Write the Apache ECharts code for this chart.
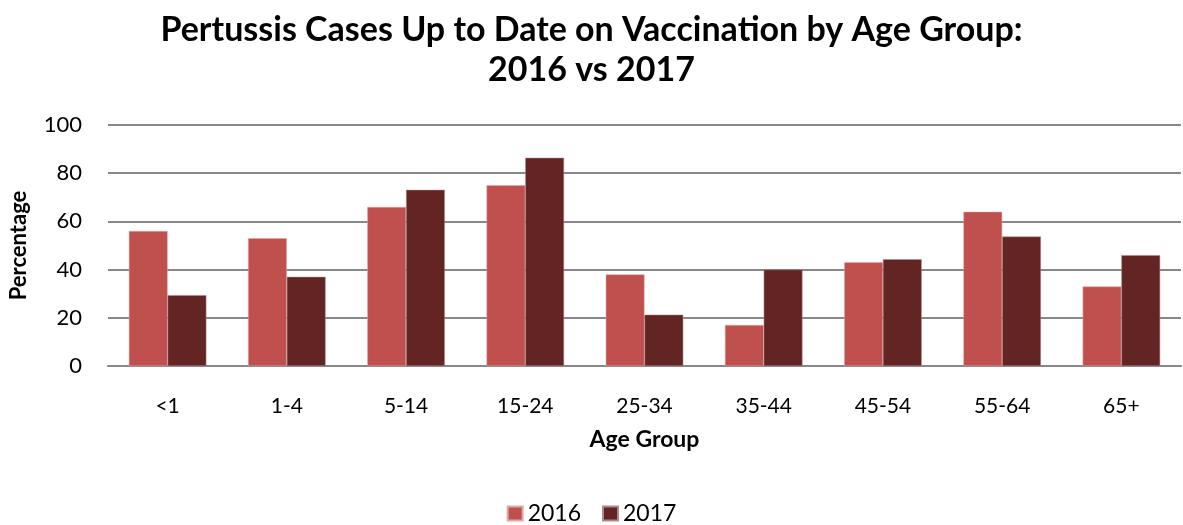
<!DOCTYPE html>
<html>
<head>
<meta charset="utf-8">
<script src="https://cdn.jsdelivr.net/npm/echarts@6/dist/echarts.min.js"></script>
<style>
html,body{margin:0;padding:0;background:#fff;}
#chart{width:1183px;height:525px;}
</style>
</head>
<body>
<div id="chart"></div>
<script>
const categories = ['<1','1-4','5-14','15-24','25-34','35-44','45-54','55-64','65+'];
const values2016 = [56, 53, 66, 75, 38, 17, 43, 64, 33];
const values2017 = [29.4, 37, 73.1, 86.4, 21.3, 40, 44.3, 53.7, 46];
const yTicks = {min: 0, max: 100, interval: 20};

const FONT = 'Lato';
const chart = echarts.init(document.getElementById('chart'));
chart.setOption({
  animation: false,
  backgroundColor: '#ffffff',
  textStyle: {fontFamily: FONT},
  title: {
    text: 'Pertussis Cases Up to Date on Vaccination by Age Group:\n2016 vs 2017',
    left: 'center',
    top: 10,
    padding: 0,
    textStyle: {fontFamily: FONT, fontSize: 34, fontWeight: 'bold', color: '#000', lineHeight: 40}
  },
  legend: {
    bottom: 0,
    left: 'center',
    padding: 0,
    itemWidth: 15,
    itemHeight: 14,
    itemGap: 21,
    icon: 'rect',
    textStyle: {fontFamily: FONT, fontSize: 23, color: '#000'},
    data: ['2016','2017']
  },
  grid: {left: 108, right: 2, top: 125, bottom: 159, containLabel: false},
  xAxis: {
    type: 'category',
    data: categories,
    name: 'Age Group',
    nameLocation: 'middle',
    nameGap: 62,
    nameTextStyle: {fontFamily: FONT, fontSize: 23, fontWeight: 'bold', color: '#000'},
    axisLine: {show: true, lineStyle: {color: '#888', width: 2}},
    axisTick: {show: false},
    axisLabel: {fontFamily: FONT, fontSize: 21, color: '#000', margin: 30}
  },
  yAxis: {
    type: 'value',
    min: yTicks.min, max: yTicks.max, interval: yTicks.interval,
    name: 'Percentage',
    nameLocation: 'middle',
    nameGap: 78,
    nameTextStyle: {fontFamily: FONT, fontSize: 22, fontWeight: 'bold', color: '#000'},
    axisLine: {show: false},
    axisTick: {show: false},
    splitLine: {lineStyle: {color: '#888', width: 2}},
    axisLabel: {fontFamily: FONT, fontSize: 22, color: '#000', margin: 26}
  },
  series: [
    {name: '2016', type: 'bar', data: values2016, barGap: '0%', barCategoryGap: '35%',
     itemStyle: {color: '#C0504D', borderColor: '#e0a9a7', borderWidth: 0.5}},
    {name: '2017', type: 'bar', data: values2017, barGap: '0%', barCategoryGap: '35%',
     itemStyle: {color: '#632523', borderColor: '#b08a89', borderWidth: 0.5}}
  ]
});
</script>
</body>
</html>
